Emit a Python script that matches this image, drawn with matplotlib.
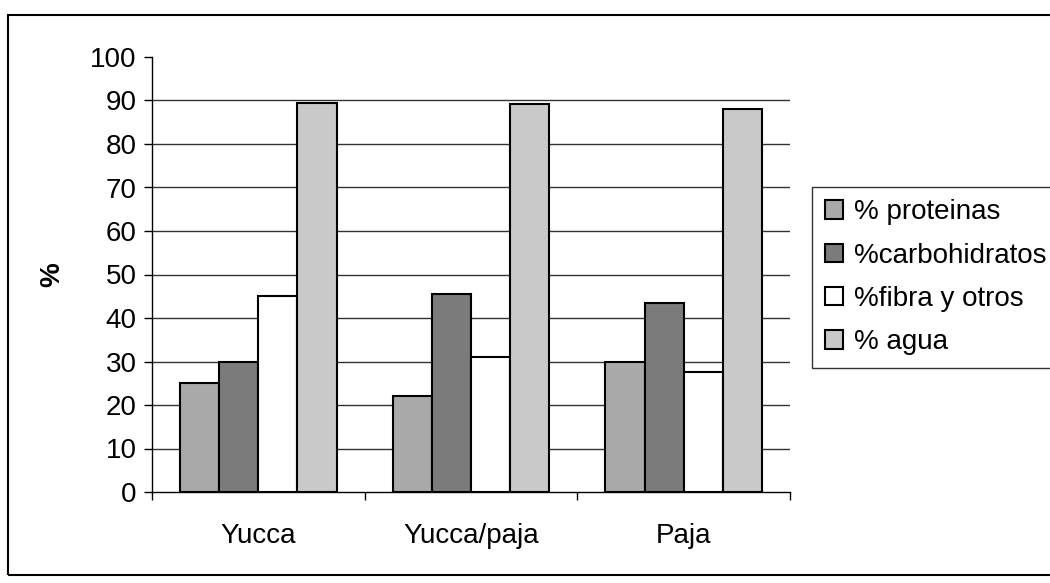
import matplotlib
matplotlib.use("Agg")
import matplotlib.pyplot as plt
import numpy as np
from matplotlib.patches import Rectangle

plt.rcParams['font.family'] = ['Liberation Sans', 'DejaVu Sans']

categories = ["Yucca", "Yucca/paja", "Paja"]
series_names = ["% proteinas", "%carbohidratos", "%fibra y otros", "% agua"]
proteinas = [25, 22, 30]
carbohidratos = [30, 45.5, 43.5]
fibra = [45, 31, 27.5]
agua = [89.5, 89.3, 88]
series_values = [proteinas, carbohidratos, fibra, agua]
colors = ["#a9a9a9", "#7b7b7b", "#ffffff", "#c9c9c9"]
yticks = list(range(0, 101, 10))

fig = plt.figure(figsize=(10.5, 5.83), dpi=100)
ax = fig.add_axes([152/1050, 1-492/583, (790-152)/1050, (492-57)/583])

x = np.arange(len(categories))
w = 0.184
for i, (name, vals, c) in enumerate(zip(series_names, series_values, colors)):
    ax.bar(x + (i - 1.5) * w, vals, width=w, color=c, edgecolor="black",
           linewidth=1.5, label=name, zorder=3)

ax.set_xlim(-0.5, len(categories) - 0.5)
ax.set_ylim(0, 100)
ax.set_yticks(yticks)
ax.set_yticklabels([str(t) for t in yticks], fontsize=20)
for t in yticks[1:-1]:
    ax.axhline(t, color="#333333", linewidth=1.0, zorder=1)

ax.set_xticks(x)
ax.set_xticklabels(categories, fontsize=20)
ax.tick_params(axis='x', length=0, pad=22)
ax.set_xticks(np.arange(-0.5, len(categories), 1.0), minor=True)
ax.tick_params(axis='x', which='minor', length=6, width=1, direction='out')
ax.tick_params(axis='y', length=6, width=1, direction='out', pad=5)

ax.spines['top'].set_visible(False)
ax.spines['right'].set_visible(False)
ax.spines['left'].set_linewidth(1)
ax.spines['bottom'].set_linewidth(1)

ax.set_ylabel("%", fontsize=20, fontweight='bold', labelpad=18)

leg = fig.legend(loc='upper left', bbox_to_anchor=(812/1050, 1-187/583),
                 fontsize=20, frameon=True, fancybox=False, edgecolor='black',
                 handlelength=0.65, handleheight=0.65, handletextpad=0.4,
                 labelspacing=0.62, borderpad=0.45, borderaxespad=0)
leg.get_frame().set_linewidth(1)

fig.patches.append(Rectangle((8/1050, 1-575/583), 1.2, (575-15)/583,
                             transform=fig.transFigure, fill=False,
                             edgecolor='black', linewidth=1.5))

fig.savefig("out.png", dpi=100)
